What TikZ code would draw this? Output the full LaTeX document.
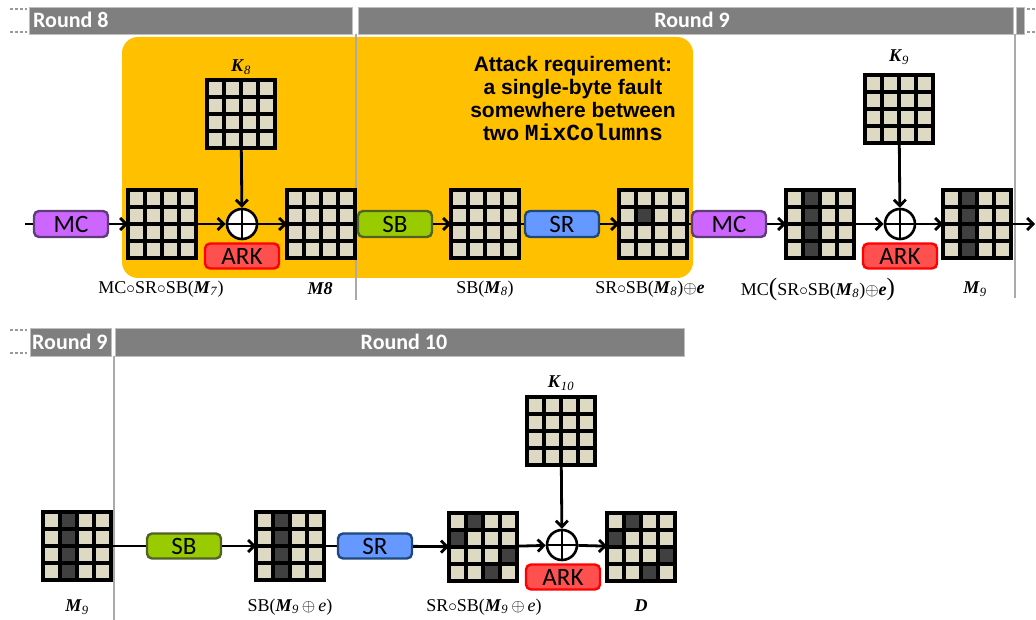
\documentclass[tikz,border=0pt]{standalone}
\usepackage{fontspec}
\setmainfont{Liberation Serif}
\newfontfamily\calib{Carlito}
\newfontfamily\arialf{Liberation Sans}
\newfontfamily\courf{Liberation Mono}
\usetikzlibrary{arrows.meta,calc}
\definecolor{cellc}{RGB}{221,217,195}
\definecolor{darkc}{RGB}{64,64,64}
\definecolor{barc}{RGB}{127,127,127}
\definecolor{orng}{RGB}{255,192,0}
\definecolor{mcfill}{RGB}{204,102,255}
\definecolor{mcdraw}{RGB}{96,60,120}
\definecolor{sbfill}{RGB}{153,204,0}
\definecolor{sbdraw}{RGB}{79,98,40}
\definecolor{srfill}{RGB}{102,153,255}
\definecolor{srdraw}{RGB}{31,73,125}
\definecolor{arkfill}{RGB}{255,80,80}
\definecolor{arkdraw}{RGB}{255,0,0}
\definecolor{vline}{RGB}{170,170,170}
\newcommand\Mv[1]{\textbf{\textit{M}}\textsubscript{\textit{#1}}}
\newcommand\Kv[1]{\textbf{\textit{K}}\textsubscript{\textit{#1}}}
\tikzset{
  gridbox/.style={rectangle, minimum width=68pt, minimum height=68pt, inner sep=0pt, outer sep=0pt},
  gridline/.style={line width=3.2pt, black, line cap=rect},
  opbox/.style={rectangle, rounded corners=5pt, minimum width=74pt, minimum height=26pt, line width=2.4pt, inner sep=0pt, font=\calib\fontsize{25}{25}\selectfont},
  mcbox/.style={opbox, fill=mcfill, draw=mcdraw},
  sbbox/.style={opbox, fill=sbfill, draw=sbdraw},
  srbox/.style={opbox, fill=srfill, draw=srdraw},
  arkbox/.style={opbox, fill=arkfill, draw=arkdraw, minimum height=25pt},
  xorc/.style={circle, draw, fill=white, line width=2.6pt, minimum size=30pt, inner sep=0pt},
  lab/.style={inner sep=0pt, font=\fontsize{18}{21}\selectfont},
  conn/.style={line width=2.8pt, black},
  arr/.style={conn, -{Straight Barb[length=6pt,width=12pt]}},
  roundtxt/.style={inner sep=0pt, text=white, font=\calib\bfseries\fontsize{22}{22}\selectfont},
  bar/.style={fill=barc, draw=gray!50, line width=0.6pt},
  dots/.style={dash pattern=on 2.5pt off 2.5pt, line width=2.5pt, gray!80},
  divider/.style={vline, line width=1.2pt}
}
\newcommand\stategrid[3]{%
  \node[gridbox] (#1) at (#2,#3) {};
  \fill[cellc] (#1.north west) rectangle (#1.south east);
  \foreach \i in {0,...,4} {
    \draw[gridline] ($(#1.north west)+(\i*17,0)$) -- ++(0,68);
    \draw[gridline] ($(#1.north west)+(0,\i*17)$) -- ++(68,0);
  }%
}
\newcommand\darkcells[2]{%
  \foreach \r/\c in {#2} {
    \fill[darkc] ($(#1.north west)+(\c*17+1.6,\r*17+1.6)$) rectangle ++(13.8,13.8);
  }%
}
\begin{document}
\begin{tikzpicture}[x=1pt,y=-1pt]
\useasboundingbox (0,0) rectangle (1036,620);
% ---------- top section ----------
\fill[orng, rounded corners=16pt] (122,37) rectangle (693,278);
\fill[bar] (29,7) rectangle (352,34);
\fill[bar] (358,7) rectangle (1013,34);
\fill[bar] (1016,7) rectangle (1024,34);
\draw[dots] (10,9) -- (27,9);
\draw[dots] (10,32) -- (27,32);
\draw[dots] (1027,9) -- (1036,9);
\draw[dots] (1027,32) -- (1036,32);
\node[roundtxt, anchor=west] (r8) at (33,20) {Round 8};
\node[roundtxt] (r9) at (692,20) {Round 9};
\draw[divider] (356,34) -- (356,300);
\draw[divider] (1015,34) -- (1015,298);

\node[align=center, inner sep=0pt, font=\arialf\bfseries\fontsize{21}{23}\selectfont] (att) at (573,99)
  {Attack requirement:\\a single-byte fault\\somewhere between\\two {\courf\fontsize{23}{23}\selectfont MixColumns}};

\coordinate (in1) at (25,224);
\coordinate (out1) at (1035,224);
\node[mcbox] (mc1) at (71,224) {MC};
\stategrid{m1}{162}{224}
\node[xorc] (x1) at (242,224) {};
\draw[line width=2.6pt] (x1.north) -- (x1.south) (x1.west) -- (x1.east);
\stategrid{k8}{241}{114}
\node[lab] (k8l) at (241,67) {\Kv{8}};
\node[arkbox] (ark1) at (242,256) {ARK};
\stategrid{m2}{321}{224}
\node[sbbox] (sb1) at (395,224) {SB};
\stategrid{m3}{485}{224}
\node[srbox] (sr1) at (562,224) {SR};
\stategrid{m4}{653}{224}
\darkcells{m4}{1/1}
\node[mcbox] (mc2) at (729,224) {MC};
\stategrid{m5}{820}{224}
\darkcells{m5}{0/1,1/1,2/1,3/1}
\node[xorc] (x2) at (900,224) {};
\draw[line width=2.6pt] (x2.north) -- (x2.south) (x2.west) -- (x2.east);
\stategrid{k9}{899}{109}
\node[lab] (k9l) at (899,57) {\Kv{9}};
\node[arkbox] (ark2) at (900,256) {ARK};
\stategrid{m6}{977}{224}
\darkcells{m6}{0/1,1/1,2/1,3/1}

\draw[conn] (in1) -- (mc1);
\draw[arr] (mc1) -- (m1);
\draw[arr] (m1) -- (x1);
\draw[arr] (k8) -- (x1);
\draw[arr] (x1) -- (m2);
\draw[conn] (m2) -- (sb1);
\draw[arr] (sb1) -- (m3);
\draw[conn] (m3) -- (sr1);
\draw[arr] (sr1) -- (m4);
\draw[conn] (m4) -- (mc2);
\draw[arr] (mc2) -- (m5);
\draw[arr] (m5) -- (x2);
\draw[arr] (k9) -- (x2);
\draw[arr] (x2) -- (m6);
\draw[arr] (m6) -- (out1);

\node[lab] (l1) at (161,289) {MC$\circ$SR$\circ$SB(\Mv{7})};
\node[lab] (l2) at (320,289) {\textbf{\textit{M8}}};
\node[lab] (l3) at (485,289) {SB(\Mv{8})};
\node[lab] (l4) at (650,289) {SR$\circ$SB(\Mv{8})$\oplus$\textbf{\textit{e}}};
\node[lab] (l5) at (818,289) {MC{\fontsize{25}{25}\selectfont(}SR$\circ$SB(\Mv{8})$\oplus$\textbf{\textit{e}}{\fontsize{25}{25}\selectfont)}};
\node[lab] (l6) at (975,289) {\Mv{9}};

% ---------- bottom section ----------
\fill[bar] (30,328) rectangle (111,356);
\fill[bar] (115,328) rectangle (684,356);
\draw[dots] (10,330) -- (27,330);
\draw[dots] (10,353) -- (27,353);
\node[roundtxt, anchor=west] (r9b) at (32,342) {Round 9};
\node[roundtxt] (r10) at (404,342) {Round 10};
\draw[divider] (114,356) -- (114,620);

\stategrid{b1}{77}{546}
\darkcells{b1}{0/1,1/1,2/1,3/1}
\node[sbbox, minimum height=25pt] (sb2) at (184,546) {SB};
\stategrid{b2}{290}{546}
\darkcells{b2}{0/1,1/1,2/1,3/1}
\node[srbox, minimum height=25pt] (sr2) at (375,546) {SR};
\stategrid{b3}{483}{547}
\darkcells{b3}{0/1,1/0,2/3,3/2}
\node[xorc] (x3) at (562,545) {};
\draw[line width=2.6pt] (x3.north) -- (x3.south) (x3.west) -- (x3.east);
\stategrid{k10}{561}{431}
\node[lab] (k10l) at (561,383) {\Kv{10}};
\node[arkbox] (ark3) at (563,577) {ARK};
\stategrid{dd}{641}{547}
\darkcells{dd}{0/1,1/0,2/3,3/2}

\draw[conn] (b1) -- (sb2);
\draw[arr] (sb2) -- (b2);
\draw[conn] (b2) -- (sr2);
\draw[arr] (sr2) -- (b3);
\draw[arr] (b3) -- (x3);
\draw[arr] (k10) -- (x3);
\draw[arr] (x3) -- (dd);

\node[lab] (bl1) at (77,607) {\Mv{9}};
\node[lab] (bl2) at (290,607) {SB(\Mv{9}\,$\oplus$\,\textit{e})};
\node[lab] (bl3) at (484,607) {SR$\circ$SB(\Mv{9}\,$\oplus$\,\textit{e})};
\node[lab] (bl4) at (641,606) {\textbf{\textit{D}}};
\end{tikzpicture}
\end{document}
